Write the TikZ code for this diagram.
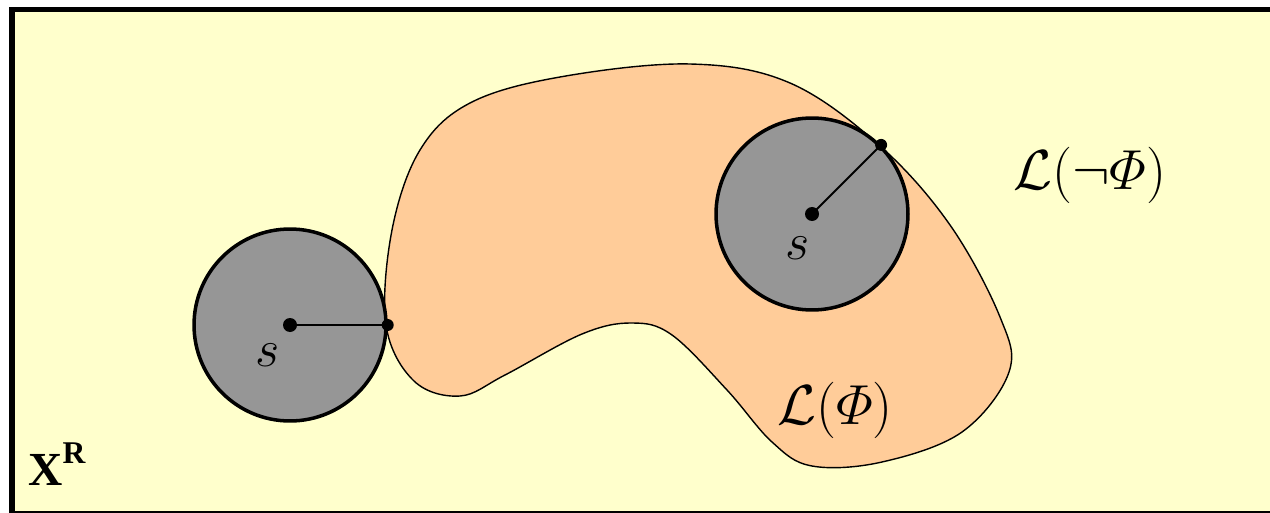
\documentclass[tikz,border=0pt]{standalone}
\usepackage{amsmath}
\usepackage{fontspec}
\newfontfamily\serifbold{Liberation Serif}
\definecolor{bgyellow}{HTML}{FFFFCC}
\definecolor{blobpeach}{HTML}{FFCC99}
\definecolor{ballgray}{HTML}{969696}
\begin{document}
\begin{tikzpicture}[x=0.02cm,y=-0.02cm,
    ball/.style={circle,draw,line width=2pt,fill=ballgray,minimum size=3.84cm,inner sep=0pt},
    lbl/.style={inner sep=0pt,font=\fontsize{24.88}{29}\selectfont,scale=1.2},
    setlbl/.style={inner sep=0pt,font=\fontsize{24.88}{29}\selectfont,scale=1.29}]
    \useasboundingbox (0,0) rectangle (1270,513);
    \clip (0,0) rectangle (1270,513);
    \fill[white] (0,0) rectangle (1270,513);
    \filldraw[fill=bgyellow,draw=black,line width=3.1pt] (12,9.5) rectangle (1300,514);
    % region of Phi
    \filldraw[fill=blobpeach,draw=black,line width=0.8pt]
        plot[smooth cycle,tension=0.6] coordinates {(386,325) (392,230) (420,150) (470,103)
        (560,77) (690,64) (790,83) (880,146) (950,225) (1000,317) (1009,372) (962,432)
        (882,462) (812,466) (772,442) (727,390) (672,335) (632,323) (582,334) (505,375)
        (460,396) (414,381)};
    \node[ball] (sL) at (290,325) {};
    \node[ball] (sR) at (812,214) {};
    \coordinate (cL) at (sL.center);
    \coordinate (cR) at (sR.center);
    \draw[line width=1.1pt] (cL) -- (sL.east);
    \draw[line width=1.1pt] (cR) -- (sR.45);
    \foreach \p/\r in {cL/7,cR/7,sL.east/6,sR.45/6}{
        \fill (\p) circle (\r);
    }
    \node[lbl] (sLtxt) at (268,355) {$s$};
    \node[lbl] (sRtxt) at (798,248) {$s$};
    \node[setlbl] (notphi) at (1090,175) {$\mathcal{L}(\neg\varPhi)$};
    \node[setlbl] (phi) at (835,410) {$\mathcal{L}(\varPhi)$};
    \node[anchor=base west,inner sep=0pt] (xr) at (28,485)
        {\serifbold\fontsize{27}{30}\selectfont\bfseries X\raisebox{12pt}{\fontsize{18}{20}\selectfont R}};
\end{tikzpicture}
\end{document}
